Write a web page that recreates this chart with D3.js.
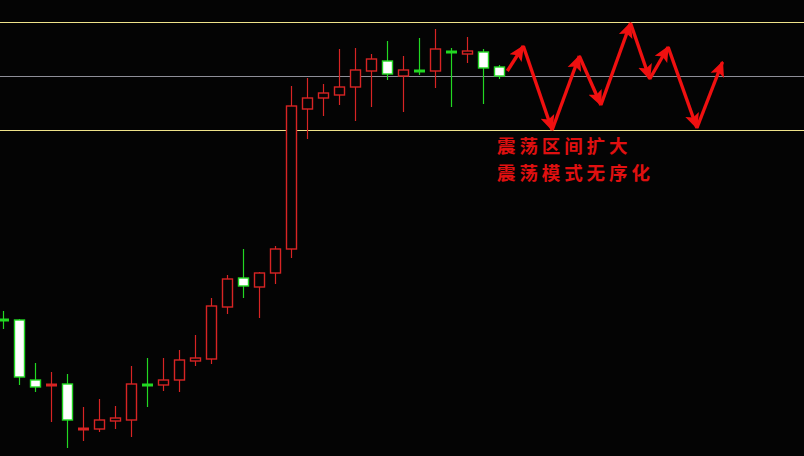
<!DOCTYPE html>
<html><head><meta charset="utf-8">
<script src="https://cdn.jsdelivr.net/npm/d3@7"></script>
<style>html,body{margin:0;padding:0;background:#040404;overflow:hidden}</style>
</head><body><svg id="c" width="804" height="456"></svg>
<script>
// candle data (price units), index order left -> right
const opens  = [136,136,76,71,72,27,27,35,36,71,71,76,95,97,149,178,169,183,207,347,358,361,369,385,395,380,385,385,404,402,404,389];
const highs  = [145,137,93,84,82,49,57,50,90,98,98,106,121,158,181,207,184,210,370,378,372,407,408,402,415,400,418,427,408,419,407,391];
const lows   = [127,71,64,34,8,15,24,27,19,49,65,64,90,92,142,158,138,172,198,317,340,351,335,349,376,344,381,368,349,393,352,377];
const closes = [136,79,69,71,36,27,36,38,72,71,76,96,98,150,177,170,183,207,350,358,363,369,386,397,382,386,385,407,404,405,388,380];
const kinds  = ["gdoji","down","down","rdoji","down","rdoji","up","up","up","gdoji","up","up","up","up","up","down","up","up","up","up","up","up","up","up","down","up","gdoji","up","gdoji","up","down","down"];
// horizontal reference levels
const levels = [434, 380, 326];
const levelColors = ["#efe38a", "#8e8e98", "#efe38a"];
// projected zig-zag path (bar index, price)
const zigIdx   = [31.5, 32.5, 34.3, 36.0, 37.35, 39.2, 40.4, 41.55, 43.35, 44.95];
const zigPrice = [385, 410, 326, 400, 351, 433, 377, 409, 328, 394];
const notes = ["震荡区间扩大", "震荡模式无序化"];

const svg = d3.select("#c");
const W = 804, H = 456;
const x = d3.scaleLinear().domain([0, 49]).range([3.3, 3.3 + 16 * 49]);
const y = d3.scaleLinear().domain([0, 456]).range([456, 0]);
const RED = "#d82424", GREEN = "#22d822";

svg.append("rect").attr("width", W).attr("height", H).attr("fill", "#040404");

svg.selectAll("line.lvl").data(levels).enter().append("line")
  .attr("x1", 0).attr("x2", W)
  .attr("y1", d => Math.round(y(d)) + 0.5).attr("y2", d => Math.round(y(d)) + 0.5)
  .attr("stroke", (d, i) => levelColors[i]).attr("stroke-width", 1.2);

const candles = opens.map((o, i) => ({i, o, h: highs[i], l: lows[i], c: closes[i], k: kinds[i]}));
const g = svg.selectAll("g.cd").data(candles).enter().append("g");
const col = d => (d.k === "up" || d.k === "rdoji") ? RED : GREEN;
g.append("line")
  .attr("x1", d => Math.round(x(d.i)) + 0.5).attr("x2", d => Math.round(x(d.i)) + 0.5)
  .attr("y1", d => y(d.h)).attr("y2", d => y(d.l))
  .attr("stroke", col).attr("stroke-width", 1.2);
g.filter(d => d.k === "up" || d.k === "down").append("rect")
  .attr("x", d => Math.round(x(d.i)) - 4.5)
  .attr("y", d => y(Math.max(d.o, d.c)))
  .attr("width", 10)
  .attr("height", d => Math.abs(y(d.o) - y(d.c)))
  .attr("fill", d => d.k === "down" ? "#ffffff" : "#040404")
  .attr("stroke", col).attr("stroke-width", 1.4);
g.filter(d => d.k.indexOf("doji") >= 0).append("rect")
  .attr("x", d => Math.round(x(d.i)) - 5)
  .attr("y", d => y(d.o) - 1.5)
  .attr("width", 11).attr("height", 3)
  .attr("fill", col);

// arrows
const defs = svg.append("defs");
defs.append("marker").attr("id", "ah").attr("viewBox", "0 0 12 12")
  .attr("refX", 11).attr("refY", 6).attr("markerWidth", 4.6).attr("markerHeight", 4.6)
  .attr("markerUnits", "strokeWidth").attr("orient", "auto")
  .append("path").attr("d", "M0,0.5 L12,6 L0,11.5 L2.5,6 Z").attr("fill", "#f01010");
for (let j = 0; j < zigIdx.length - 1; j++) {
  svg.append("line")
    .attr("x1", x(zigIdx[j])).attr("y1", y(zigPrice[j]))
    .attr("x2", x(zigIdx[j + 1])).attr("y2", y(zigPrice[j + 1]))
    .attr("stroke", "#f01010").attr("stroke-width", 3.4)
    .attr("marker-end", "url(#ah)");
}

svg.selectAll("text.note").data(notes).enter().append("text")
  .attr("x", 497).attr("y", (d, i) => 153 + i * 27)
  .attr("fill", "#e01010")
  .attr("font-family", "'Noto Sans CJK SC', sans-serif")
  .attr("font-weight", "bold").attr("font-size", 18.5)
  .attr("letter-spacing", 3.9)
  .text(d => d);
</script></body></html>
